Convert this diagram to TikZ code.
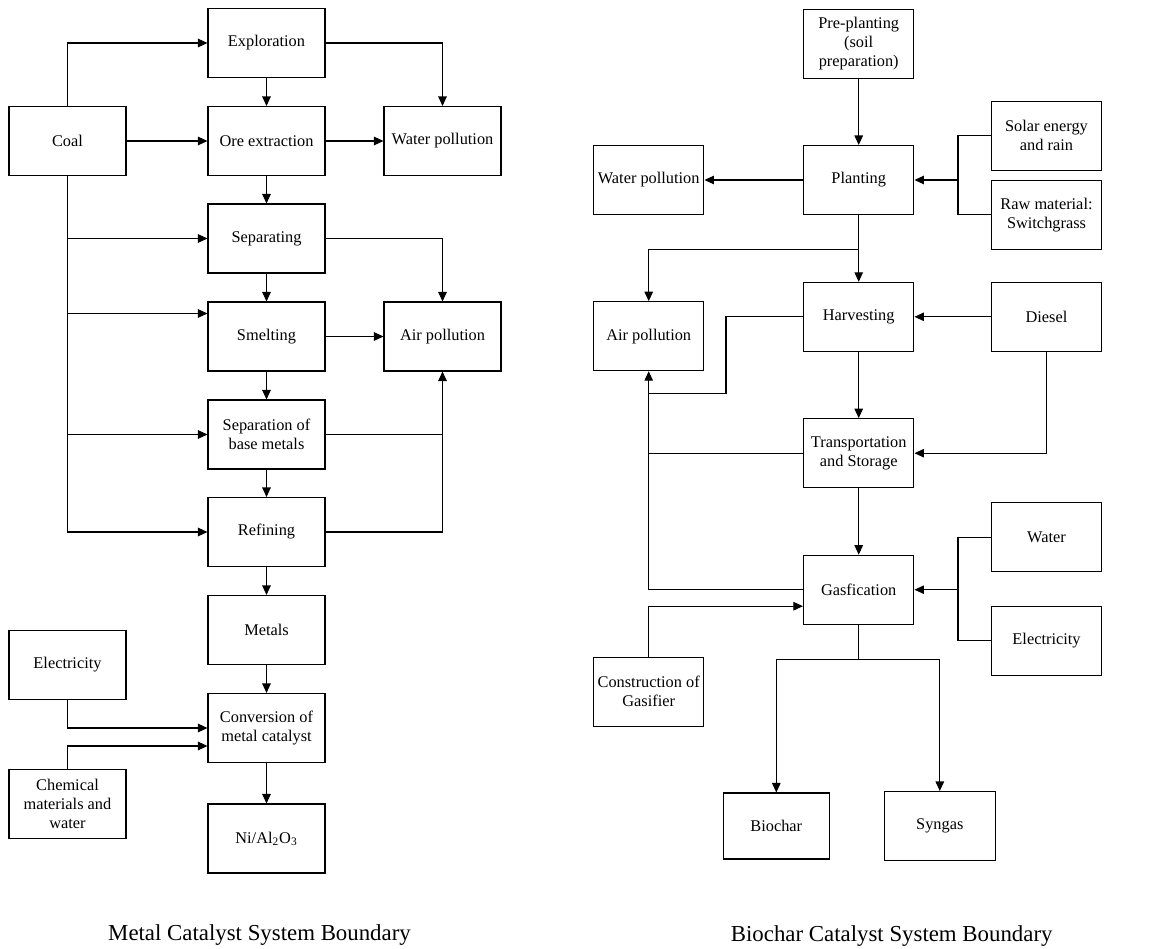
\documentclass[tikz,border=0pt]{standalone}
\usepackage{fontspec}
\setmainfont{Liberation Serif}
\usepackage{tikz}
\usetikzlibrary{arrows.meta,positioning}

\begin{document}
\begin{tikzpicture}[x=0.02cm,y=-0.02cm,
        box/.style={rectangle,draw,line width=0.6pt,align=center,
                    font=\fontsize{9.3}{10.8}\selectfont,
                    minimum width=2.34cm,minimum height=1.38cm,inner sep=1pt},
        sbox/.style={box,minimum width=2.21cm},
        arr/.style={-{Triangle[length=0.19cm,width=0.17cm]},line width=0.6pt},
        ln/.style={line width=0.6pt},
        ttl/.style={font=\fontsize{13}{15}\selectfont}]
        \useasboundingbox (0,0) rectangle (1152,949);
        % metal catalyst
        \node[box] (explor) at (266.5,43) {Exploration};
        \node[box] (coal) at (67.5,141) {Coal};
        \node[box] (ore) at (266.5,141) {Ore extraction};
        \node[box] (waterL) at (442.5,141) {Water pollution};
        \node[box] (sep) at (266.5,238.5) {Separating};
        \node[box] (smelt) at (266.5,336.5) {Smelting};
        \node[box] (airL) at (442.5,336.5) {Air pollution};
        \node[box] (sepbase) at (266.5,434.5) {Separation of\\base metals};
        \node[box] (refin) at (266.5,532) {Refining};
        \node[box] (metals) at (266.5,630) {Metals};
        \node[box] (elecL) at (67.5,665) {Electricity};
        \node[box] (conv) at (266.5,728) {Conversion of\\metal catalyst};
        \node[box] (chem) at (67.5,804) {Chemical\\materials and\\water};
        \node[box] (nial) at (266.5,838.5) {Ni/Al\textsubscript{2}O\textsubscript{3}};
        \node[ttl] (ttlL) at (259.5,935) {Metal Catalyst System Boundary};
        \draw[arr] (coal.north) |- (explor.west);
        \draw[arr] (coal) -- (ore);
        \draw[arr] (coal.south) |- (sep.west);
        \draw[arr] (coal.south) |- ([yshift=0.46cm]smelt.west);
        \draw[arr] (coal.south) |- (sepbase.west);
        \draw[arr] (coal.south) |- (refin.west);
        \draw[arr] (explor.east) -| (waterL.north);
        \draw[arr] (ore) -- (waterL);
        \draw[arr] (sep.east) -| (airL.north);
        \draw[arr] (smelt) -- (airL);
        \draw[ln] (sepbase.east) -| (airL.south);
        \draw[arr] (refin.east) -| (airL.south);
        \draw[arr] (explor) -- (ore);
        \draw[arr] (ore) -- (sep);
        \draw[arr] (sep) -- (smelt);
        \draw[arr] (smelt) -- (sepbase);
        \draw[arr] (sepbase) -- (refin);
        \draw[arr] (refin) -- (metals);
        \draw[arr] (metals) -- (conv);
        \draw[arr] (conv) -- (nial);
        \draw[arr] (elecL.south) |- (conv.west);
        \draw[arr] (chem.north) |- ([yshift=-0.36cm]conv.west);
        % biochar catalyst
        \node[sbox] (preplant) at (858.7,43.8) {Pre-planting\\(soil\\preparation)};
        \node[sbox] (solar) at (1046.5,135.8) {Solar energy\\and rain};
        \node[sbox] (waterR) at (648.7,180) {Water pollution};
        \node[sbox] (plant) at (858.7,180) {Planting};
        \node[sbox] (raw) at (1046.5,214.8) {Raw material:\\Switchgrass};
        \node[sbox] (harv) at (858.7,316.8) {Harvesting};
        \node[sbox] (diesel) at (1046.5,316.8) {Diesel};
        \node[sbox] (airR) at (648.7,336.2) {Air pollution};
        \node[sbox] (trans) at (858.7,453.2) {Transportation\\and Storage};
        \node[sbox] (waterW) at (1046.5,537.3) {Water};
        \node[sbox] (gas) at (858.7,589.7) {Gasfication};
        \node[sbox] (elecR) at (1046.5,640.8) {Electricity};
        \node[sbox] (constr) at (648.7,691.7) {Construction of\\Gasifier};
        \node[sbox,minimum width=2.12cm,minimum height=1.32cm] (biochar) at (776.3,826) {Biochar};
        \node[sbox] (syngas) at (939.8,826) {Syngas};
        \node[ttl] (ttlR) at (891.7,936.5) {Biochar Catalyst System Boundary};
        \coordinate (jp) at (958,180);
        \coordinate (jg) at (958,589.7);
        \coordinate (hj) at (726,393.7);
        \coordinate (pb) at ([yshift=-0.69cm]plant.south);
        \coordinate (gs) at ([yshift=-0.69cm]gas.south);
        \draw[arr] (preplant) -- (plant);
        \draw[arr] (plant) -- (waterR);
        \draw[ln] (solar.west) -| (jp);
        \draw[ln] (raw.west) -| (jp);
        \draw[arr] (jp) -- (plant.east);
        \draw[arr] (plant) -- (harv);
        \draw[arr] (pb) -| (airR.north);
        \draw[arr] (diesel) -- (harv);
        \draw[ln] (harv.west) -| (hj) -- (hj -| airR.south);
        \draw[arr] (harv) -- (trans);
        \draw[arr] (diesel.south) |- (trans.east);
        \draw[ln] (trans.west) -- (trans.west -| airR.south);
        \draw[arr] (gas.west) -| (airR.south);
        \draw[arr] (trans) -- (gas);
        \draw[ln] (waterW.west) -| (jg);
        \draw[ln] (elecR.west) -| (jg);
        \draw[arr] (jg) -- (gas.east);
        \draw[arr] (constr.north) |- ([yshift=-0.33cm]gas.west);
        \draw[ln] (gas.south) -- (gs);
        \draw[arr] (gs) -| (biochar.north);
        \draw[arr] (gs) -| (syngas.north);
      \end{tikzpicture}
\end{document}
